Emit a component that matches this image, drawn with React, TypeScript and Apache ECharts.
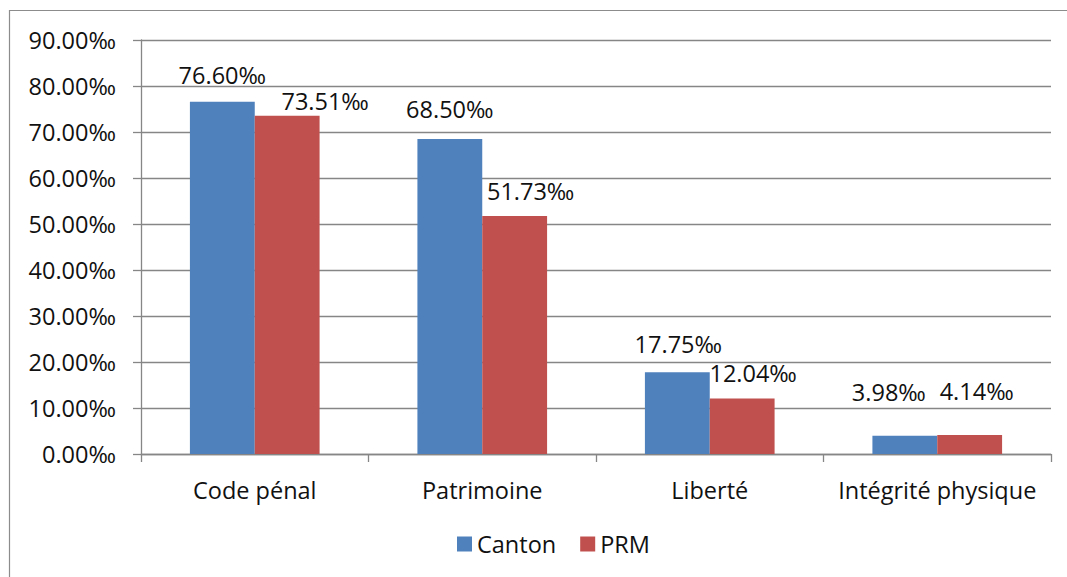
import React, { useEffect, useRef } from "react";
import * as echarts from "echarts";

const categories = ["Code pénal", "Patrimoine", "Liberté", "Intégrité physique"];
const cantonValues = [76.6, 68.5, 17.75, 3.98];
const prmValues = [73.51, 51.73, 12.04, 4.14];
const cantonLabelOffsets = [[0, -11], [0, -14], [1, -12], [-16, -28]];
const prmLabelOffsets = [[38, 1], [16, -9], [11, -10], [7, -28]];

const FONT = "'Open Sans', 'Noto Sans', sans-serif";
const FS = 23.5;
const fmt = (v: number) => v.toFixed(2) + "‰";

export default function App() {
  const ref = useRef<HTMLDivElement>(null);
  useEffect(() => {
    if (!ref.current) return;
    const chart = echarts.init(ref.current, undefined, { renderer: "svg" });
    const mk = (vals: number[], offs: number[][]) =>
      vals.map((v, i) => ({
        value: v,
        label: { offset: offs[i] },
      }));
    const labelCfg = {
      show: true,
      position: "top",
      distance: 4,
      fontFamily: FONT,
      fontSize: FS,
      color: "#111",
      formatter: (p: any) => fmt(p.value),
    };
    chart.setOption({
      animation: false,
      textStyle: { fontFamily: FONT },
      graphic: [
        {
          type: "rect",
          shape: { x: 9.5, y: 10.5, width: 1100, height: 600 },
          style: { fill: "none", stroke: "#8c8c8c", lineWidth: 1.2 },
          silent: true,
        },
      ],
      grid: { left: 141, right: 16, top: 40, bottom: 123, containLabel: false },
      legend: {
        bottom: 16,
        left: 452,
        itemWidth: 15,
        itemHeight: 15,
        itemGap: 24,
        icon: "rect",
        textStyle: { fontFamily: FONT, fontSize: FS, color: "#111" },
        data: ["Canton", "PRM"],
      },
      xAxis: {
        type: "category",
        data: categories,
        axisLine: { lineStyle: { color: "#868686", width: 1.3 } },
        axisTick: { show: true, length: 8, lineStyle: { color: "#868686", width: 1.3 } },
        axisLabel: { interval: 0, fontFamily: FONT, fontSize: FS, color: "#111", margin: 24 },
      },
      yAxis: {
        type: "value",
        min: 0,
        max: 90,
        interval: 10,
        axisLine: { show: true, lineStyle: { color: "#868686", width: 1.3 } },
        axisTick: { show: true, length: 8, lineStyle: { color: "#868686", width: 1.3 } },
        splitLine: { lineStyle: { color: "#868686", width: 1.3 } },
        axisLabel: {
          fontFamily: FONT,
          fontSize: FS,
          color: "#111",
          margin: 25,
          formatter: (v: number) => fmt(v),
        },
      },
      series: [
        {
          name: "Canton",
          type: "bar",
          data: mk(cantonValues, cantonLabelOffsets),
          itemStyle: { color: "#4F81BD" },
          barGap: "0%",
          barCategoryGap: "43%",
          label: labelCfg,
        },
        {
          name: "PRM",
          type: "bar",
          data: mk(prmValues, prmLabelOffsets),
          itemStyle: { color: "#C0504D" },
          barGap: "0%",
          barCategoryGap: "43%",
          label: labelCfg,
        },
      ],
    });
    return () => chart.dispose();
  }, []);
  return (
    <div
      ref={ref}
      style={{ position: "absolute", left: 0, top: 0, width: 1067, height: 577, background: "#fff" }}
    />
  );
}
